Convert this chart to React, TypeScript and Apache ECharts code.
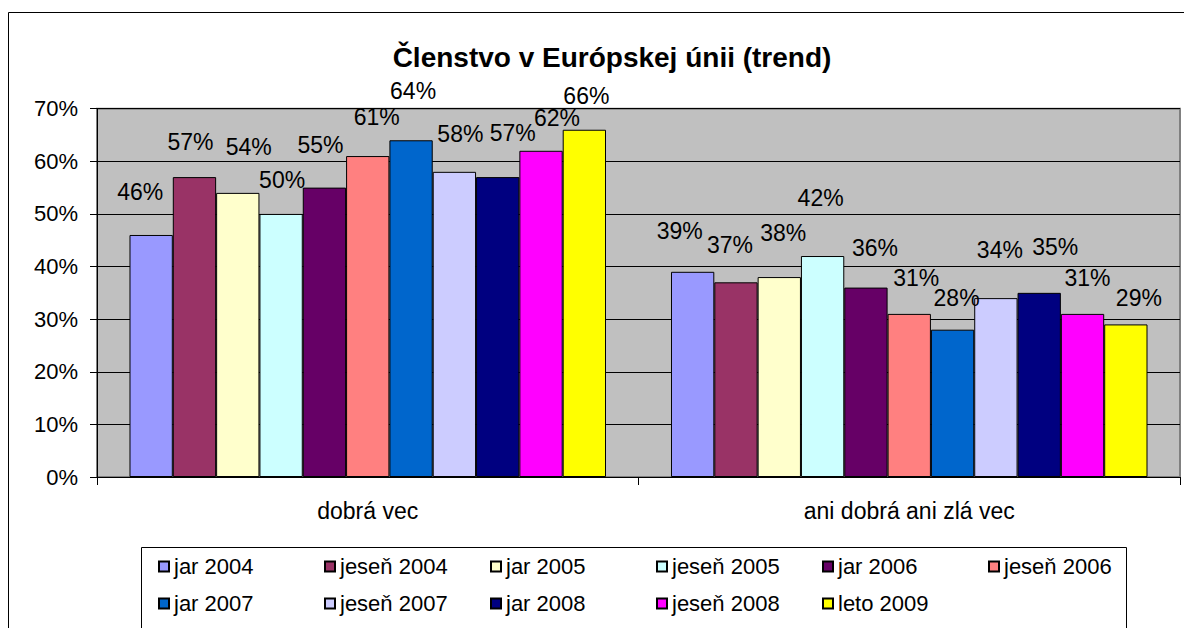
import React, { useEffect, useRef } from "react";
import * as echarts from "echarts";

const chartTitle = "Členstvo v Európskej únii (trend)";
const categories = ["dobrá vec", "ani dobrá ani zlá vec"];
const periods = [
  "jar 2004",
  "jeseň 2004",
  "jar 2005",
  "jeseň 2005",
  "jar 2006",
  "jeseň 2006",
  "jar 2007",
  "jeseň 2007",
  "jar 2008",
  "jeseň 2008",
  "leto 2009",
];
const valuesGood = [46, 57, 54, 50, 55, 61, 64, 58, 57, 62, 66];
const valuesNeutral = [39, 37, 38, 42, 36, 31, 28, 34, 35, 31, 29];
const periodColors = [
  "#9999FF",
  "#993366",
  "#FFFFCC",
  "#CCFFFF",
  "#660066",
  "#FF8080",
  "#0066CC",
  "#CCCCFF",
  "#000080",
  "#FF00FF",
  "#FFFF00",
];
const yMin = 0;
const yMax = 70;
const yStep = 10;

// label nudges (style only), [dx, dy] relative to default top placement
const labelShiftGood = [
  [-11, -25], [-4, -17], [11, -28], [1, -16], [-4, -25], [9, -21],
  [2, -31], [6, -20], [15, -26], [16, -15], [2, -16],
];
const labelShiftNeutral = [
  [-13, -23], [-6, -19], [4, -26], [-2, -40], [9, -22], [7, -18],
  [4, -14], [4, -30], [16, -28], [5, -18], [13, -8],
];

const FONT = "'Liberation Sans', Arial, Helvetica, sans-serif";

export default function App() {
  const ref = useRef<HTMLDivElement>(null);

  useEffect(() => {
    if (!ref.current) return;
    const chart = echarts.init(ref.current, undefined, { renderer: "svg" });

    const series = periods.map((name, i) => ({
      name,
      type: "bar",
      barGap: "0%",
      barCategoryGap: "12%",
      itemStyle: { color: periodColors[i], borderColor: "#000", borderWidth: 1 },
      label: {
        show: true,
        position: "top",
        distance: 5,
        formatter: "{c}%",
        fontSize: 23,
        lineHeight: 26,
        color: "#000",
        fontFamily: FONT,
      },
      emphasis: { disabled: true },
      data: [
        { value: valuesGood[i], label: { offset: labelShiftGood[i] } },
        { value: valuesNeutral[i], label: { offset: labelShiftNeutral[i] } },
      ],
    }));

    chart.setOption({
      animation: false,
      title: {
        text: chartTitle,
        left: 607,
        top: 36,
        textAlign: "center",
        textStyle: {
          fontFamily: FONT,
          fontSize: 28,
          fontWeight: "bold",
          color: "#000",
          lineHeight: 32,
        },
      },
      graphic: [
        {
          type: "rect",
          silent: true,
          shape: { x: 8.5, y: 12.5, width: 1400, height: 1000 },
          style: { fill: "none", stroke: "#000", lineWidth: 1 },
        },
        {
          type: "rect",
          silent: true,
          shape: { x: 141.5, y: 547.5, width: 985, height: 200 },
          style: { fill: "none", stroke: "#000", lineWidth: 1 },
        },
      ],
      legend: {
        left: 158,
        top: 553,
        width: 1010,
        padding: 0,
        itemGap: 10,
        itemWidth: 10,
        itemHeight: 10,
        icon: "rect",
        selectedMode: false,
        textStyle: {
          fontFamily: FONT,
          fontSize: 22,
          color: "#000",
          width: 140,
          lineHeight: 27,
        },
        data: periods,
      },
      grid: {
        left: 97,
        right: 4,
        top: 108.7,
        bottom: 151,
        show: true,
        backgroundColor: "#C0C0C0",
        borderColor: "#808080",
        borderWidth: 2,
      },
      xAxis: {
        type: "category",
        data: categories,
        axisLine: { show: true, lineStyle: { color: "#000", width: 1 } },
        axisTick: { show: true, length: 8, lineStyle: { color: "#000" } },
        axisLabel: {
          fontFamily: FONT,
          fontSize: 23,
          color: "#000",
          margin: 22,
        },
        splitLine: { show: false },
      },
      yAxis: {
        type: "value",
        min: yMin,
        max: yMax,
        interval: yStep,
        axisLine: { show: true, lineStyle: { color: "#000", width: 1 } },
        axisTick: { show: true, length: 7, lineStyle: { color: "#000" } },
        axisLabel: {
          formatter: "{value}%",
          fontFamily: FONT,
          fontSize: 22,
          color: "#000",
          margin: 19,
        },
        splitLine: { show: true, lineStyle: { color: "#000", width: 1 } },
      },
      series,
    });

    return () => chart.dispose();
  }, []);

  return (
    <div
      ref={ref}
      style={{
        position: "absolute",
        left: 0,
        top: 0,
        width: 1184,
        height: 628,
        background: "#fff",
      }}
    />
  );
}
